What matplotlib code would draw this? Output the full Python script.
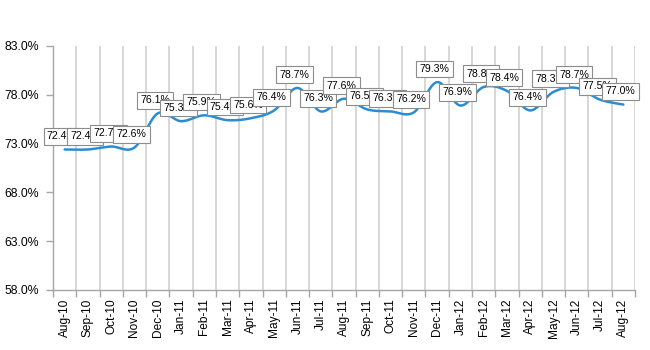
import numpy as np
import matplotlib
matplotlib.use("Agg")
import matplotlib.pyplot as plt
import matplotlib.ticker as mticker

# ── Data ───────────────────────────────────────────────────
months = ["Aug-10", "Sep-10", "Oct-10", "Nov-10", "Dec-10", "Jan-11", "Feb-11",
          "Mar-11", "Apr-11", "May-11", "Jun-11", "Jul-11", "Aug-11", "Sep-11",
          "Oct-11", "Nov-11", "Dec-11", "Jan-12", "Feb-12", "Mar-12", "Apr-12",
          "May-12", "Jun-12", "Jul-12", "Aug-12"]
rates = [72.4, 72.4, 72.7, 72.6, 76.1, 75.3, 75.9, 75.4, 75.6, 76.4, 78.7,
         76.3, 77.6, 76.5, 76.3, 76.2, 79.3, 76.9, 78.8, 78.4, 76.4, 78.3,
         78.7, 77.5, 77.0]
y_ticks = [58, 63, 68, 73, 78, 83]

LINE_COL = "#2a8dd4"
GRID_COL = "#d4d4d4"
AXIS_COL = "#a6a6a6"

plt.rcParams["font.family"] = ["Liberation Sans", "DejaVu Sans"]


def smooth(xs, ys, n=20):
    """Excel-style smoothed line (Catmull-Rom through the points)."""
    xs = np.asarray(xs, float)
    ys = np.asarray(ys, float)
    px = np.concatenate([[xs[0]], xs, [xs[-1]]])
    py = np.concatenate([[ys[0]], ys, [ys[-1]]])
    t = np.linspace(0, 1, n, endpoint=False)
    out_x, out_y = [], []
    for i in range(1, len(px) - 2):
        for p, out in ((px, out_x), (py, out_y)):
            p0, p1, p2, p3 = p[i - 1], p[i], p[i + 1], p[i + 2]
            c1 = p1 + (p2 - p0) / 6
            c2 = p2 - (p3 - p1) / 6
            out.extend((1 - t) ** 3 * p1 + 3 * (1 - t) ** 2 * t * c1
                       + 3 * (1 - t) * t ** 2 * c2 + t ** 3 * p2)
    out_x.append(xs[-1])
    out_y.append(ys[-1])
    return np.array(out_x), np.array(out_y)


fig = plt.figure(figsize=(6.5, 3.5), dpi=100)
ax = fig.add_axes([53 / 650, 1 - 290 / 350, 582 / 650, 244 / 350])

x = np.arange(len(months))
sx, sy = smooth(x, rates)
ax.plot(sx, sy, color=LINE_COL, lw=1.8, solid_capstyle="round", zorder=3)

# data labels, later ones sit on top of earlier ones (as in Excel)
for i, v in enumerate(rates):
    ax.annotate(f"{v:.1f}%", (i, v), xytext=(-2, 9.5), textcoords="offset points",
                ha="center", va="center", fontsize=7.6,
                family=["Liberation Sans Narrow", "Liberation Sans"],
                bbox=dict(boxstyle="square,pad=0.32", fc="white", ec="#8c8c8c", lw=0.8),
                zorder=4 + i)

ax.set_xlim(-0.5, len(months) - 0.5)
ax.set_ylim(58, 83)
ax.set_yticks(y_ticks)
ax.yaxis.set_major_formatter(mticker.FuncFormatter(lambda v, _: f"{v:.1f}%"))

ax.set_xticks(x)
ax.set_xticklabels(months, rotation=90, fontsize=8.6)
ax.set_xticks(np.arange(len(months) + 1) - 0.5, minor=True)
ax.tick_params(axis="x", which="major", length=0, pad=6)
ax.tick_params(axis="x", which="minor", length=5, color=AXIS_COL, width=1)
ax.tick_params(axis="y", length=5, color=AXIS_COL, width=1, labelsize=8.8, pad=5)
ax.grid(axis="x", which="minor", color=GRID_COL, lw=1.3, zorder=0)
ax.set_axisbelow(True)

for s in ("top", "right"):
    ax.spines[s].set_visible(False)
for s in ("left", "bottom"):
    ax.spines[s].set_color(AXIS_COL)
    ax.spines[s].set_linewidth(1)

plt.savefig("out.png", dpi=100)
plt.close()
